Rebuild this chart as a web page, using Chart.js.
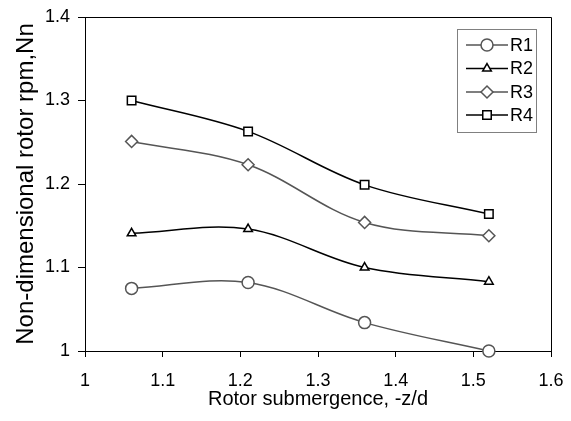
<!DOCTYPE html>
<html>
<head>
<meta charset="utf-8">
<script src="https://cdn.jsdelivr.net/npm/chart.js@4.4.1/dist/chart.umd.min.js"></script>
<style>
  html, body { margin: 0; padding: 0; background: #ffffff; }
  #wrap { width: 571px; height: 421px; }
</style>
</head>
<body>
<div id="wrap"><canvas id="c" width="571" height="421"></canvas></div>
<script>
// ---- data ----
const xValues = [1.06, 1.21, 1.36, 1.52];
const seriesNames = ["R1", "R2", "R3", "R4"];
const r1 = [1.075, 1.082, 1.034, 1.000];
const r2 = [1.141, 1.146, 1.100, 1.083];
const r3 = [1.251, 1.223, 1.154, 1.138];
const r4 = [1.300, 1.263, 1.199, 1.164];
const xTickValues = [1, 1.1, 1.2, 1.3, 1.4, 1.5, 1.6];
const xTickLabels = ["1", "1.1", "1.2", "1.3", "1.4", "1.5", "1.6"];
const yTickValues = [1, 1.1, 1.2, 1.3, 1.4];
const yTickLabels = ["1", "1.1", "1.2", "1.3", "1.4"];
const xTitle = "Rotor submergence, -z/d";
const yTitle = "Non-dimensional rotor rpm,Nn";

const FONT = "'Liberation Sans', Arial, sans-serif";
const FS = 18;
const GRAY = "#555555";
const BLACK = "#000000";

const styles = [
  { color: GRAY,  point: "circle",  radius: 6 },
  { color: BLACK, point: "triangle", radius: 5 },
  { color: GRAY,  point: "rectRot", radius: 6 },
  { color: BLACK, point: "rect",    radius: 6 }
];
const allSeries = [r1, r2, r3, r4];

const datasets = allSeries.map((vals, i) => ({
  label: seriesNames[i],
  data: vals.map((v, j) => ({ x: xValues[j], y: v })),
  borderColor: styles[i].color,
  borderWidth: 1.5,
  backgroundColor: "#ffffff",
  pointStyle: styles[i].point,
  pointRadius: styles[i].radius,
  pointBorderWidth: 1.5,
  pointBackgroundColor: "#ffffff",
  pointBorderColor: styles[i].color,
  tension: 0.35,
  fill: false,
  clip: false
}));

const framePlugin = {
  id: "frame",
  afterDraw(chart) {
    const { ctx, chartArea: a } = chart;
    ctx.save();
    ctx.strokeStyle = BLACK;
    ctx.lineWidth = 1;
    ctx.beginPath();
    ctx.moveTo(Math.round(a.left) + 0.5, Math.round(a.top) + 0.5);
    ctx.lineTo(Math.round(a.right) + 0.5, Math.round(a.top) + 0.5);
    ctx.lineTo(Math.round(a.right) + 0.5, Math.round(a.bottom) + 0.5);
    ctx.stroke();
    ctx.restore();
  }
};

const legendPlugin = {
  id: "customLegend",
  afterDraw(chart) {
    const { ctx } = chart;
    const bx = 457.5, by = 29.5, bw = 79, bh = 103;
    ctx.save();
    ctx.fillStyle = "#ffffff";
    ctx.fillRect(bx, by, bw, bh);
    ctx.strokeStyle = "#808080";
    ctx.lineWidth = 1;
    ctx.strokeRect(bx, by, bw, bh);
    const rows = [45, 68.5, 92, 115];
    chart.data.datasets.forEach((ds, i) => {
      const y = rows[i];
      ctx.strokeStyle = ds.borderColor;
      ctx.lineWidth = 1.5;
      ctx.beginPath();
      ctx.moveTo(466, y);
      ctx.lineTo(508, y);
      ctx.stroke();
      ctx.fillStyle = "#ffffff";
      ctx.strokeStyle = ds.pointBorderColor;
      ctx.lineWidth = 1.5;
      Chart.helpers.drawPoint(ctx, { pointStyle: ds.pointStyle, radius: ds.pointRadius, borderWidth: 1.5, rotation: 0 }, 487, y);
      ctx.fillStyle = BLACK;
      ctx.font = FS + "px " + FONT;
      ctx.textBaseline = "middle";
      ctx.textAlign = "left";
      ctx.fillText(ds.label, 510, y + 1);
    });
    ctx.restore();
  }
};

new Chart(document.getElementById("c"), {
  type: "line",
  data: { datasets },
  plugins: [framePlugin, legendPlugin],
  options: {
    responsive: false,
    animation: false,
    devicePixelRatio: 1,
    layout: { padding: { top: 17, right: 20, bottom: 0, left: 0 } },
    plugins: { legend: { display: false }, tooltip: { enabled: false } },
    scales: {
      x: {
        type: "linear",
        min: 1, max: 1.6,
        afterBuildTicks(scale) { scale.ticks = xTickValues.map(v => ({ value: v })); },
        afterFit(scale) { scale.height = 70; scale.paddingLeft = 0; scale.paddingRight = 0; },
        ticks: {
          color: BLACK,
          font: { family: FONT, size: FS },
          padding: 13,
          maxRotation: 0,
          autoSkip: false,
          callback: (v, i) => xTickLabels[i]
        },
        grid: { display: true, drawOnChartArea: false, drawTicks: true, tickLength: 6, color: BLACK, lineWidth: 1 },
        border: { display: true, color: BLACK, width: 1 },
        title: { display: true, text: xTitle, color: BLACK, font: { family: FONT, size: 20 }, padding: { top: 0, bottom: 10 } }
      },
      y: {
        type: "linear",
        min: 1, max: 1.4,
        afterBuildTicks(scale) { scale.ticks = yTickValues.map(v => ({ value: v })); },
        afterFit(scale) { scale.width = 85; scale.paddingTop = 0; scale.paddingBottom = 0; },
        ticks: {
          color: BLACK,
          font: { family: FONT, size: FS },
          padding: 8,
          autoSkip: false,
          callback: (v, i) => yTickLabels[i]
        },
        grid: { display: true, drawOnChartArea: false, drawTicks: true, tickLength: 7, color: BLACK, lineWidth: 1 },
        border: { display: true, color: BLACK, width: 1 },
        title: { display: true, text: yTitle, color: BLACK, font: { family: FONT, size: 24 }, padding: { top: 12, bottom: 0 } }
      }
    }
  }
});
</script>
</body>
</html>
